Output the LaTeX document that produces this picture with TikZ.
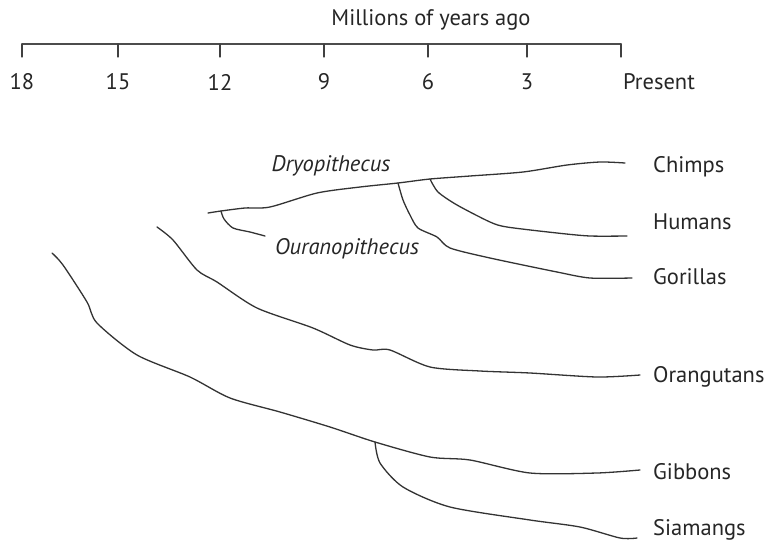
\documentclass[tikz,border=0pt]{standalone}
\usepackage{fontspec}
\setmainfont{PT Sans}
\usetikzlibrary{calc}

\begin{document}
\begin{tikzpicture}[
    x={(1pt,0pt)},
    y={(0pt,-1pt)},
    line join=round,
    line cap=round,
    every node/.style={font=\fontsize{22.5}{26}\selectfont, text=black!85},
    eje/.style={line width=1.8pt, black!70},
    marca/.style={line width=1.2pt, black!75},
    rama/.style={line width=1.3pt, black!80, smooth, tension=0.45},
    fosil/.style={font=\fontsize{22.5}{26}\selectfont\itshape, text=black!85},
    especie/.style={anchor=west, inner sep=0pt}
]
\useasboundingbox (0,0) rectangle (772,542);

\coordinate (E0) at (22,44);
\coordinate (E1) at (621,44);

\draw[eje] (E0) -- (E1);
\foreach \xx/\lab in {22/18, 118/15, 220/12, 324/9, 428/6, 527/3} {
    \draw[marca] (\xx,44) -- (\xx,57);
    \node (t\lab) at (\xx,82) {\lab};
}
\draw[marca] (E1) -- (621,57);
\node[anchor=west, inner sep=0pt] (tP) at (623,82) {Present};
\node (titulo) at (431,20) {Millions of years ago};

\coordinate (raizD) at (208,213);
\coordinate (nD) at (221,211);
\coordinate (nG) at (398,183);
\coordinate (nH) at (430,179);
\coordinate (nS) at (375,442);

\node[especie] (chimps) at (653,167) {Chimps};
\node[especie] (humans) at (653,222) {Humans};
\node[especie] (gorillas) at (653,277) {Gorillas};
\node[especie] (orangutans) at (653,377) {Orangutans};
\node[especie] (gibbons) at (653,472) {Gibbons};
\node[especie] (siamangs) at (653,530) {Siamangs};

\node[fosil] (dryo) at (331,166) {Dryopithecus};
\node[fosil] (ourano) at (347,249) {Ouranopithecus};

\draw[rama] plot coordinates {(raizD) (nD) (245,208) (270,207) (317,193) (360,187) (nG) (nH) (470,176) (523,172) (567,165) (600,162) (625,163)};
\draw[rama] plot coordinates {(nD) (224,219) (233,228) (250,232) (265,236)};
\draw[rama] plot coordinates {(nG) (403,200) (410,215) (418,228) (437,237) (450,248) (490,258) (557,272) (590,278) (632,278)};
\draw[rama] plot coordinates {(nH) (438,192) (457,205) (490,222) (507,227) (557,233) (590,236) (627,236)};

\draw[rama] plot coordinates {(157,227) (173,240) (197,270) (217,282) (257,308) (313,328) (350,345) (373,350) (390,350) (430,367) (480,371) (530,373) (597,377) (640,375)};

\draw[rama] plot coordinates {(52,253) (63,265) (87,302) (97,323) (137,355) (190,377) (230,398) (280,412) (330,427) (nS) (430,457) (470,460) (530,473) (597,473) (640,470)};
\draw[rama] plot coordinates {(nS) (380,463) (403,487) (450,507) (530,520) (580,527) (620,538) (637,538)};

\end{tikzpicture}
\end{document}
